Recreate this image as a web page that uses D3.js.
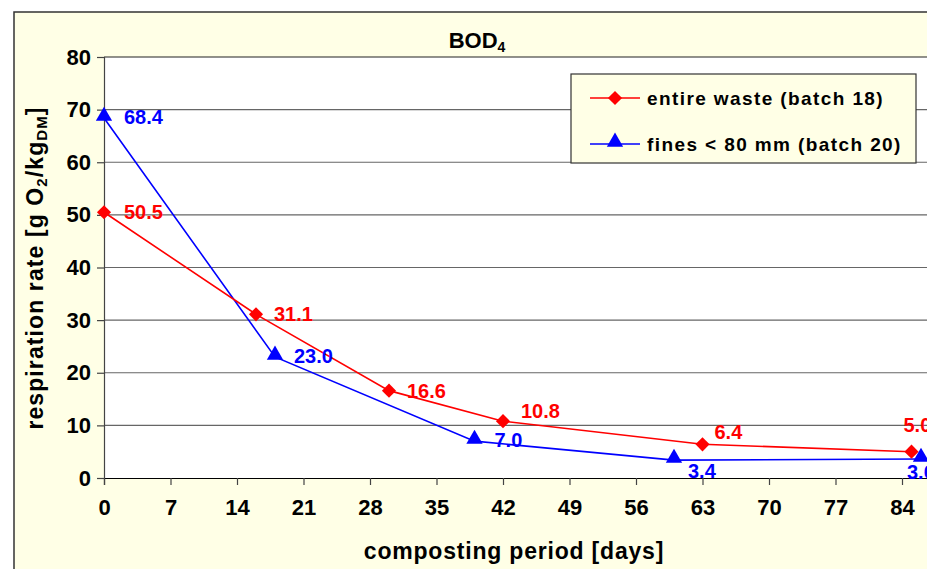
<!DOCTYPE html>
<html>
<head>
<meta charset="utf-8">
<script src="https://cdn.jsdelivr.net/npm/d3@7"></script>
<style>
  body { margin: 0; background: #fff; }
  text { font-family: "Liberation Sans", Arial, sans-serif; font-weight: bold; }
</style>
</head>
<body>
<div id="chart"></div>
<script>
// composting days and BOD4 values
const daysWaste = [0, 16, 30, 42, 63, 85];
const bodWaste = [50.5, 31.1, 16.6, 10.8, 6.4, 5.0];
const daysFines = [0, 18, 39, 60, 86];
const bodFines = [68.4, 23.0, 7.0, 3.4, 3.6];
const xTicks = [0, 7, 14, 21, 28, 35, 42, 49, 56, 63, 70, 77, 84, 91];
const yTicks = [0, 10, 20, 30, 40, 50, 60, 70, 80];
const seriesNames = ["entire waste (batch 18)", "fines < 80 mm (batch 20)"];

const width = 927;
const height = 569;

const svg = d3.select("#chart").append("svg")
    .attr("width", width)
    .attr("height", height);

// outer chart area
svg.append("rect")
    .attr("x", 14).attr("y", 12)
    .attr("width", width + 10).attr("height", height + 10)
    .attr("fill", "#FFFFE6")
    .attr("stroke", "#333")
    .attr("stroke-width", 1.5);

const x = d3.scaleLinear().domain([0, 91]).range([104, 104 + 91 * 9.5]);
const y = d3.scaleLinear().domain([0, 80]).range([478, 57]);

// plot area
svg.append("rect")
    .attr("x", x(0)).attr("y", y(80))
    .attr("width", x(91) - x(0)).attr("height", y(0) - y(80))
    .attr("fill", "white");

// gridlines
svg.selectAll(".grid").data(yTicks.filter(d => d > 0)).enter().append("line")
    .attr("x1", x(0)).attr("x2", x(91))
    .attr("y1", d => y(d)).attr("y2", d => y(d))
    .attr("stroke", d => d === 80 ? "#222" : "#666")
    .attr("stroke-width", 1.2);

// axes
const xAxis = svg.append("g")
    .attr("transform", `translate(0,${y(0)})`)
    .call(d3.axisBottom(x).tickValues(xTicks).tickSize(7).tickPadding(14));
const yAxis = svg.append("g")
    .attr("transform", `translate(${x(0)},0)`)
    .call(d3.axisLeft(y).tickValues(yTicks).tickSize(7).tickPadding(6));

[xAxis, yAxis].forEach(g => {
    g.select(".domain").attr("stroke", "#444").attr("stroke-width", 1.2);
    g.selectAll(".tick line").attr("stroke", "#444").attr("stroke-width", 1.2);
    g.selectAll(".tick text")
        .attr("font-size", 22)
        .attr("fill", "black")
        .attr("font-family", "'Liberation Sans', Arial, sans-serif");
});
xAxis.select(".domain").attr("stroke", "#000");

// title
const title = svg.append("text")
    .attr("x", 477).attr("y", 48)
    .attr("text-anchor", "middle")
    .attr("font-size", 22);
title.append("tspan").text("BOD");
title.append("tspan").text("4").attr("font-size", 14).attr("dy", 4);

// axis titles
svg.append("text")
    .attr("x", 514).attr("y", 559)
    .attr("text-anchor", "middle")
    .attr("font-size", 23)
    .attr("letter-spacing", 0.8)
    .text("composting period [days]");

const yt = svg.append("text")
    .attr("transform", "translate(43,268) rotate(-90)")
    .attr("text-anchor", "middle")
    .attr("font-size", 23)
    .attr("letter-spacing", 1.1);
yt.append("tspan").text("respiration rate [g O");
yt.append("tspan").text("2").attr("font-size", 15).attr("dy", 4);
yt.append("tspan").text("/kg").attr("dy", -4);
yt.append("tspan").text("DM").attr("font-size", 15).attr("dy", 4);
yt.append("tspan").text("]").attr("dy", -4);

const waste = daysWaste.map((d, i) => ({ day: d, v: bodWaste[i] }));
const fines = daysFines.map((d, i) => ({ day: d, v: bodFines[i] }));

const line = d3.line().x(d => x(d.day)).y(d => y(d.v));
const diamond = d3.symbol().type(d3.symbolSquare).size(100);
const triangle = d3.symbol().type(d3.symbolTriangle).size(115);

svg.append("path").datum(fines)
    .attr("d", line).attr("fill", "none")
    .attr("stroke", "#0000FF").attr("stroke-width", 1.6);
svg.append("path").datum(waste)
    .attr("d", line).attr("fill", "none")
    .attr("stroke", "#FF0000").attr("stroke-width", 1.6);

svg.selectAll(".pt-w").data(waste).enter().append("path")
    .attr("transform", d => `translate(${x(d.day)},${y(d.v)}) rotate(45)`)
    .attr("d", diamond).attr("fill", "#FF0000");
svg.selectAll(".pt-f").data(fines).enter().append("path")
    .attr("transform", d => `translate(${x(d.day)},${y(d.v) - 2})`)
    .attr("d", triangle).attr("fill", "#0000FF");

// data labels (offsets per point as in the original)
const wasteOff = [[20, 7], [18, 7], [18, 7], [18, -3], [12, -5], [-8, -20]];
const finesOff = [[20, 6], [19, 6], [20, 6], [14, 18], [-14, 20]];

svg.selectAll(".lab-w").data(waste).enter().append("text")
    .attr("x", (d, i) => x(d.day) + wasteOff[i][0])
    .attr("y", (d, i) => y(d.v) + wasteOff[i][1])
    .attr("font-size", 20).attr("fill", "#FF0000")
    .text(d => d.v.toFixed(1));
svg.selectAll(".lab-f").data(fines).enter().append("text")
    .attr("x", (d, i) => x(d.day) + finesOff[i][0])
    .attr("y", (d, i) => y(d.v) + finesOff[i][1])
    .attr("font-size", 20).attr("fill", "#0000FF")
    .text(d => d.v.toFixed(1));

// legend
const lg = svg.append("g").attr("transform", "translate(571,74)");
lg.append("rect")
    .attr("width", 345).attr("height", 89)
    .attr("fill", "#FFFFE6").attr("stroke", "#333").attr("stroke-width", 1.2);
const colors = ["#FF0000", "#0000FF"];
const symbols = [diamond, triangle];
seriesNames.forEach((name, i) => {
    const cy = 24 + i * 46;
    lg.append("line")
        .attr("x1", 19).attr("x2", 69).attr("y1", cy).attr("y2", cy)
        .attr("stroke", colors[i]).attr("stroke-width", 1.6);
    lg.append("path")
        .attr("transform", i ? `translate(44,${cy - 2})` : `translate(44,${cy}) rotate(45)`)
        .attr("d", symbols[i]).attr("fill", colors[i]);
    lg.append("text")
        .attr("x", 76).attr("y", cy + 7)
        .attr("font-size", 19)
        .attr("letter-spacing", 1.4)
        .text(name);
});
</script>
</body>
</html>
